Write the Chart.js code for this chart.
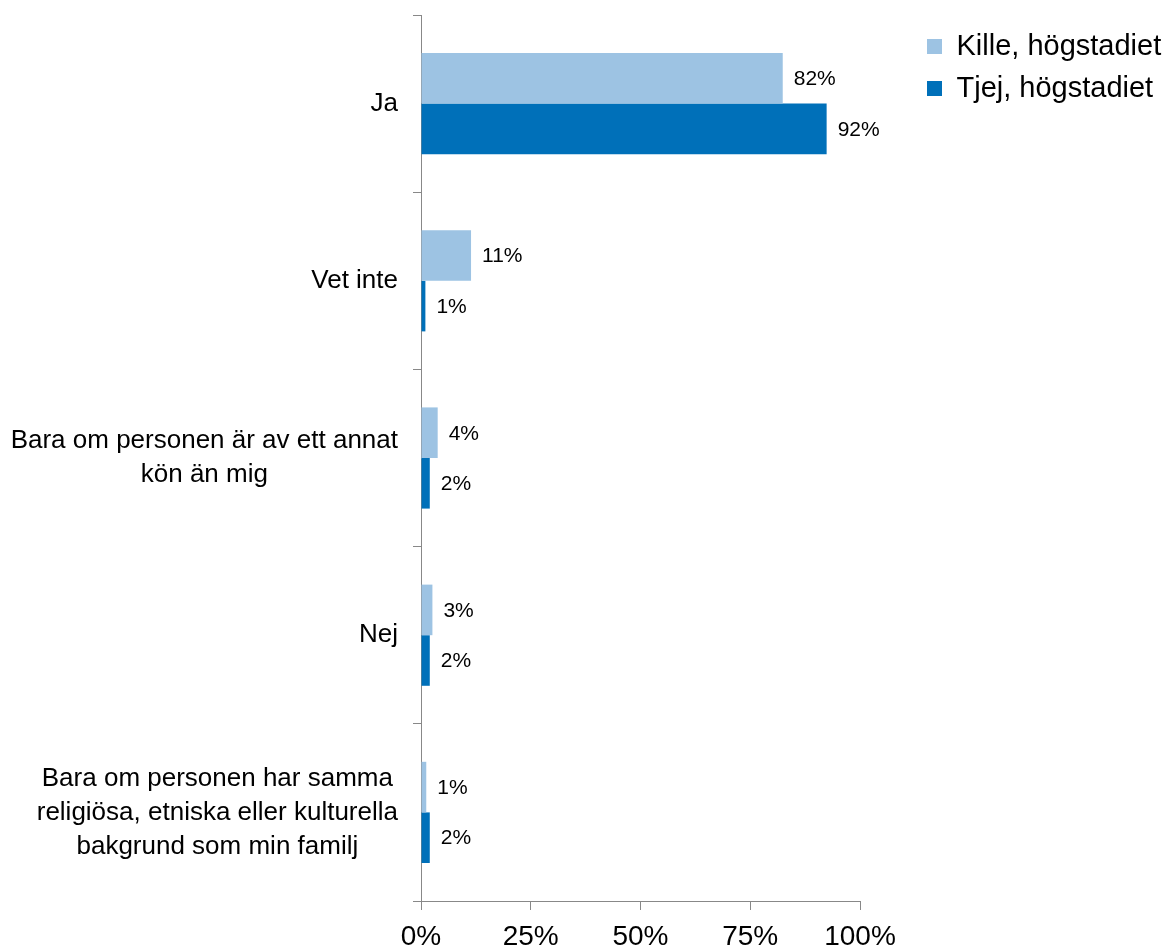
<!DOCTYPE html>
<html>
<head>
<meta charset="utf-8">
<script src="https://cdn.jsdelivr.net/npm/chart.js@4"></script>
<style>
  html, body { margin: 0; padding: 0; background: #fff; }
  #wrap { width: 1163px; height: 949px; }
</style>
</head>
<body>
<div id="wrap"><canvas id="myChart"></canvas></div>
<script>
// categories, one array per line of the label
const categories = [
  ["Ja"],
  ["Vet inte"],
  ["Bara om personen är av ett annat", "kön än mig"],
  ["Nej"],
  ["Bara om personen har samma", "religiösa, etniska eller kulturella", "bakgrund som min familj"]
];

// percent values
const killeValues = [82.4, 11.4, 3.8, 2.6, 1.2];
const tjejValues = [92.4, 1.0, 2.0, 2.0, 2.0];

const seriesNames = ["Kille, högstadiet", "Tjej, högstadiet"];
const xTicks = [0, 25, 50, 75, 100];

const FONT = "'Liberation Sans', Arial, sans-serif";
const AXIS_GREY = "#888888";

// y labels: right edge of each block lines up, lines centered within the block
const yLabelPlugin = {
  id: "yLabels",
  afterDraw(chart) {
    const ctx = chart.ctx;
    const scale = chart.scales.y;
    const lineH = 34;
    ctx.save();
    ctx.font = "26px " + FONT;
    ctx.fillStyle = "#000";
    ctx.textAlign = "center";
    ctx.textBaseline = "middle";
    categories.forEach((lines, i) => {
      const y = scale.getPixelForValue(i);
      let w = 0;
      lines.forEach(l => { w = Math.max(w, ctx.measureText(l).width); });
      const cx = scale.right - 23 - w / 2;
      const y0 = y - (lines.length - 1) * lineH / 2;
      lines.forEach((l, k) => ctx.fillText(l, cx, y0 + k * lineH));
    });
    ctx.restore();
  }
};

// value labels right of each bar
const valueLabelPlugin = {
  id: "valueLabels",
  afterDatasetsDraw(chart) {
    const ctx = chart.ctx;
    ctx.save();
    ctx.font = "21px " + FONT;
    ctx.fillStyle = "#000";
    ctx.textAlign = "left";
    ctx.textBaseline = "middle";
    chart.data.datasets.forEach((ds, i) => {
      chart.getDatasetMeta(i).data.forEach((bar, j) => {
        ctx.fillText(Math.round(ds.data[j]) + "%", bar.x + 11, bar.y + 1);
      });
    });
    ctx.restore();
  }
};

const ctx = document.getElementById("myChart");

const chart = new Chart(ctx, {
  type: "bar",
  data: {
    labels: categories.map(c => c.join(" ")),
    datasets: [
      {
        label: seriesNames[0],
        data: killeValues,
        backgroundColor: "#9dc3e3",
        categoryPercentage: 0.571,
        barPercentage: 1
      },
      {
        label: seriesNames[1],
        data: tjejValues,
        backgroundColor: "#0070b9",
        categoryPercentage: 0.571,
        barPercentage: 1
      }
    ]
  },
  options: {
    indexAxis: "y",
    responsive: true,
    maintainAspectRatio: false,
    animation: false,
    layout: { padding: { top: 15, left: 0, right: 0, bottom: 0 } },
    scales: {
      x: {
        min: 0,
        max: 100,
        afterBuildTicks(scale) {
          scale.ticks = xTicks.map(v => ({ value: v }));
        },
        afterFit(scale) { scale.height = 48; },
        grid: {
          drawOnChartArea: false,
          drawTicks: true,
          tickLength: 9,
          color: AXIS_GREY
        },
        border: { color: AXIS_GREY },
        ticks: {
          padding: 13,
          color: "#000",
          font: { family: FONT, size: 28, lineHeight: 1.0 },
          callback: v => v + "%"
        }
      },
      y: {
        afterFit(scale) { scale.width = 421; },
        grid: {
          offset: true,
          drawOnChartArea: false,
          drawTicks: true,
          tickLength: 8,
          color: AXIS_GREY
        },
        border: { color: AXIS_GREY },
        ticks: { display: false }
      },
      // empty axis only used to keep the gap between plot and legend
      gap: {
        type: "linear",
        axis: "y",
        position: "right",
        display: true,
        grid: { display: false },
        border: { display: false },
        ticks: { display: false },
        afterFit(scale) { scale.width = 54; }
      }
    },
    plugins: {
      legend: {
        position: "right",
        align: "start",
        maxWidth: 249,
        title: { display: true, text: "", padding: 0, font: { size: 4, lineHeight: 1 } },
        labels: {
          boxWidth: 15,
          boxHeight: 15,
          padding: 13,
          color: "#000",
          font: { family: FONT, size: 29 }
        }
      },
      tooltip: { enabled: false }
    }
  },
  plugins: [yLabelPlugin, valueLabelPlugin]
});
</script>
</body>
</html>
